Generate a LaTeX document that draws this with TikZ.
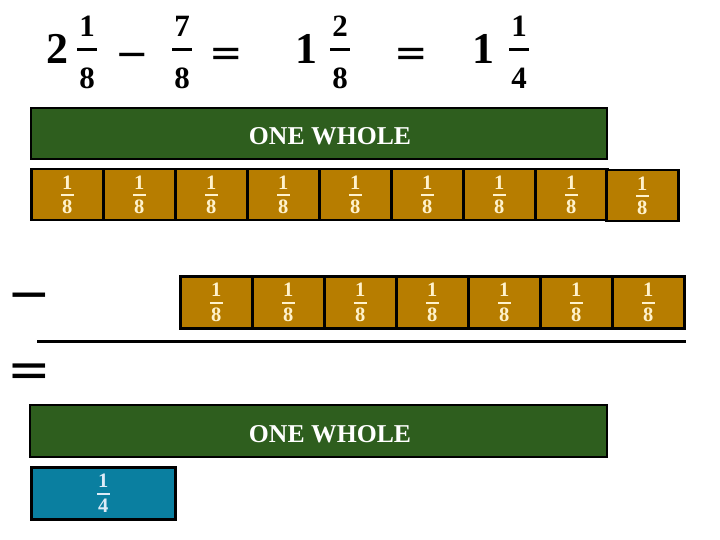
\documentclass[tikz,border=0pt]{standalone}
\usepackage{fontspec}
\setmainfont{Liberation Serif}
\newfontfamily\signfont{DejaVu Sans}
\definecolor{wgreen}{HTML}{2E5E1E}
\definecolor{wgold}{HTML}{B77D00}
\definecolor{wblue}{HTML}{0A7FA0}
\definecolor{fcream}{HTML}{FFF2CC}
\definecolor{fpale}{HTML}{DDEBF7}
\tikzset{
  wholebar/.style={draw=black, line width=2pt, fill=wgreen, inner sep=0pt, minimum width=576pt, minimum height=51pt, anchor=north west},
  wholetext/.style={inner sep=0pt, text=white, font=\fontsize{25.7}{26}\selectfont\bfseries},
  eighth/.style={draw=black, line width=2.5pt, fill=wgold, inner sep=0pt, minimum width=72pt, minimum height=51pt, anchor=north west},
  quarter/.style={draw=black, line width=2.5pt, fill=wblue, inner sep=0pt, minimum width=144pt, minimum height=52pt, anchor=north west},
  fdig/.style={inner sep=0pt, font=\fontsize{20.5}{20.5}\selectfont\bfseries},
  fbar/.style={line width=1.5pt},
  bigdig/.style={inner sep=0pt, font=\fontsize{44}{44}\selectfont\bfseries},
  middig/.style={inner sep=0pt, font=\fontsize{31}{31}\selectfont\bfseries},
  topbar/.style={line width=3pt},
  topsign/.style={inner sep=0pt, anchor=base, font=\fontsize{40}{40}\signfont},
  leftsign/.style={inner sep=0pt, anchor=base, font=\fontsize{52}{52}\signfont},
}
\newcommand{\fracin}[4]{% box, numerator, denominator, colour
  \node[fdig, text=#4] (#1n) at ([yshift=12.5pt]#1.center) {#2};
  \node[fdig, text=#4] (#1d) at ([yshift=-12.5pt]#1.center) {#3};
  \draw[fbar, #4] ([xshift=-6.5pt,yshift=-0.5pt]#1.center) -- ([xshift=6.5pt,yshift=-0.5pt]#1.center);
}
\newcommand{\topfrac}[4]{% name, x, numerator, denominator
  \node[middig] (#1n) at (#2,26) {#3};
  \node[middig] (#1d) at (#2,78) {#4};
  \draw[topbar] (#2-10,50) -- (#2+10,50);
}
\begin{document}
\begin{tikzpicture}[x=1pt,y=-1pt]
\useasboundingbox (0,0) rectangle (720,540);
% top equation
\node[bigdig] (two) at (57,49) {2};
\topfrac{fa}{87}{1}{8}
\node[topsign] (minus) at (132,67.5) {−};
\topfrac{fb}{182}{7}{8}
\node[topsign] (eqa) at (226,67) {=};
\node[bigdig] (onea) at (306,49) {1};
\topfrac{fc}{340}{2}{8}
\node[topsign] (eqb) at (411,67) {=};
\node[bigdig] (oneb) at (483,49) {1};
\topfrac{fd}{519}{1}{4}
% first whole
\node[wholebar] (w1) at (30,107) {};
\node[wholetext] (w1t) at (330,136.5) {ONE WHOLE};
% first row of eighths
\foreach \i in {0,...,7} {
  \node[eighth] (a\i) at ({30+72*\i},168) {};
  \fracin{a\i}{1}{8}{fcream}
}
\node[eighth] (a8) at (605,169) {};
\fracin{a8}{1}{8}{fcream}
% minus sign and second row
\node[leftsign] (lminus) at (29,311) {−};
\foreach \i in {0,...,6} {
  \node[eighth, minimum height=52pt] (b\i) at ({179+72*\i},275) {};
  \fracin{b\i}{1}{8}{fcream}
}
% rule
\coordinate (rl) at (37,341);
\coordinate (rr) at (686,341);
\draw[line width=3pt] (rl) -- (rr);
\node[leftsign] (leq) at (29,387) {=};
% second whole
\node[wholebar, minimum height=52pt, minimum width=577pt] (w2) at (29,404) {};
\node[wholetext] (w2t) at (330,434) {ONE WHOLE};
% quarter
\node[quarter] (q) at (30,466) {};
\fracin{q}{1}{4}{fpale}
\end{tikzpicture}
\end{document}
